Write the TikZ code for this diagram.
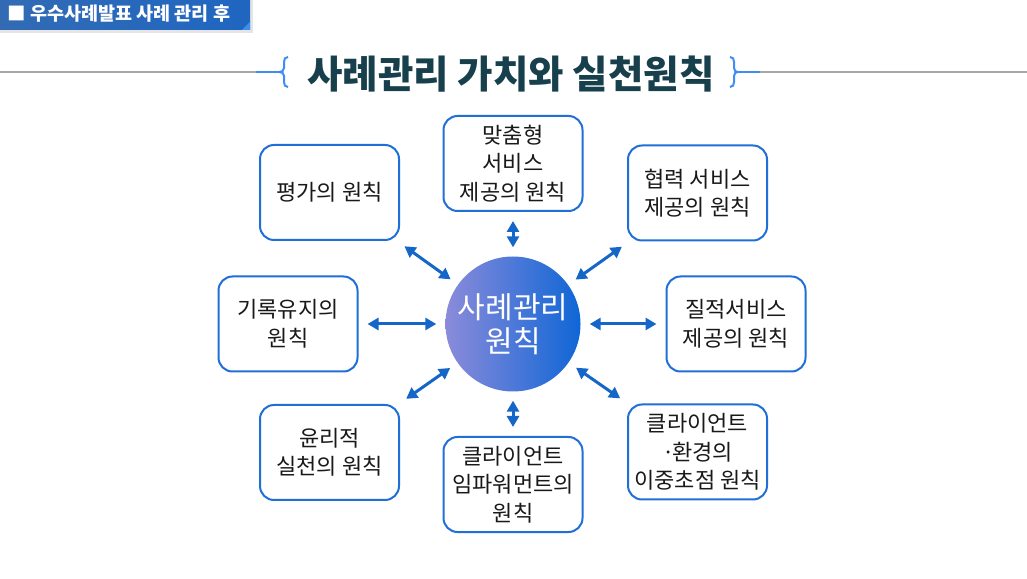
\documentclass[tikz,border=0pt]{standalone}
\usepackage{fontspec}
\usepackage{tikz}
\usetikzlibrary{arrows.meta,positioning,shapes.geometric}
\setmainfont{Noto Sans CJK KR}
\newfontfamily\titlefont{Noto Sans CJK KR Black}
\definecolor{boxblue}{HTML}{1F6FD6}
\definecolor{arrowblue}{HTML}{1466C8}
\definecolor{hubleft}{HTML}{8B8BDA}
\definecolor{hubright}{HTML}{0F66D6}
\definecolor{titleteal}{HTML}{173F4C}
\definecolor{bracelight}{HTML}{3D8EF0}
\definecolor{headblue}{HTML}{1F66C1}
\definecolor{rulegrey}{HTML}{A8A8A8}

\begin{document}
\begin{tikzpicture}[
    x=1pt, y=1pt,
    >={Triangle[length=11pt,width=12pt]},
    font=\fontsize{22}{28.5}\selectfont,
    principle/.style={
		rectangle,
		rounded corners=14pt,
		draw=boxblue,
		line width=2pt,
		text=black!90,
		align=center,
		minimum width=139pt,
		minimum height=95pt,
		inner sep=1pt,
		fill=white
	},
	hubstyle/.style={
		circle,
		minimum size=134pt,
		left color=hubleft,
		right color=hubright,
		text=white,
		align=center,
		font=\fontsize{30}{34}\selectfont
	},
	link/.style={
		<->,
		draw=arrowblue,
		line width=3pt,
		shorten <=9pt,
		shorten >=9pt
	},
	header/.style={
		text=white,
		font=\titlefont\fontsize{18.5}{20}\selectfont
	},
	titlestyle/.style={
		text=titleteal,
		font=\titlefont\fontsize{38.5}{42}\selectfont
	}
  ]
  \useasboundingbox (0,0) rectangle (1027,578);

  % header banner
  \fill [black!10] (0,578) rectangle (253,545);
  \fill [left color=headblue!80!gray, right color=headblue] (0,578) rectangle (250,548);
  \fill [bracelight] (250,548) -- (242,548) -- (250,556) -- cycle;
  \node [header, anchor=west] (banner) at (4,564) {■ 우수사례발표 사례 관리 후};

  % title with rule and braces
  \node [titlestyle] (title) at (511,504) {사례관리 가치와 실천원칙};
  \draw [rulegrey, line width=1.8pt] (0,506) -- (256,506);
  \draw [rulegrey, line width=1.8pt] (760,506) -- (1027,506);
  \draw [bracelight, line width=1.8pt] (256,506) -- (279,506);
  \draw [bracelight, line width=1.8pt] (738,506) -- (760,506);
  \draw [bracelight, line width=2pt] (288,521) .. controls (285,521) and (284,519) .. (284,516) -- (284,510)
    .. controls (284,507) and (282,506) .. (279,506) .. controls (282,506) and (284,505) .. (284,502)
    -- (284,496) .. controls (284,493) and (285,491) .. (288,491);
  \draw [bracelight, line width=2pt] (730,521) .. controls (733,521) and (734,519) .. (734,516) -- (734,510)
    .. controls (734,507) and (736,506) .. (738,506) .. controls (736,506) and (734,505) .. (734,502)
    -- (734,496) .. controls (734,493) and (733,491) .. (730,491);

  % We start by placing the hub, then the principles around it
  \node [hubstyle] (hub) at (513,254) {사례관리\\원칙};

  \node [principle, xshift=0pt, yshift=160.5pt] (custom) at (hub) {맞춤형\\서비스\\제공의 원칙};
  \node [principle, xshift=-183.5pt, yshift=131.5pt] (eval) at (hub) {평가의 원칙};
  \node [principle, xshift=184.5pt, yshift=131pt] (coop) at (hub) {협력 서비스\\제공의 원칙};
  \node [principle, xshift=-225pt] (record) at (hub) {기록유지의\\원칙};
  \node [principle, xshift=223pt] (quality) at (hub) {질적서비스\\제공의 원칙};
  \node [principle, xshift=-183.5pt, yshift=-128.5pt] (ethics) at (hub) {윤리적\\실천의 원칙};
  \node [principle, xshift=0pt, yshift=-160.5pt] (empower) at (hub) {클라이언트\\임파워먼트의\\원칙};
  \node [principle, xshift=184.5pt, yshift=-128pt] (dual) at (hub) {클라이언트\\·\hspace{-0.12em}환경의\\이중초점 원칙};

  \draw [link] (hub) -- (custom);
  \draw [link] (hub) -- (eval);
  \draw [link] (hub) -- (coop);
  \draw [link] (hub) -- (record);
  \draw [link] (hub) -- (quality);
  \draw [link] (hub) -- (ethics);
  \draw [link] (hub) -- (empower);
  \draw [link] (hub) -- (dual);

\end{tikzpicture}
\end{document}
